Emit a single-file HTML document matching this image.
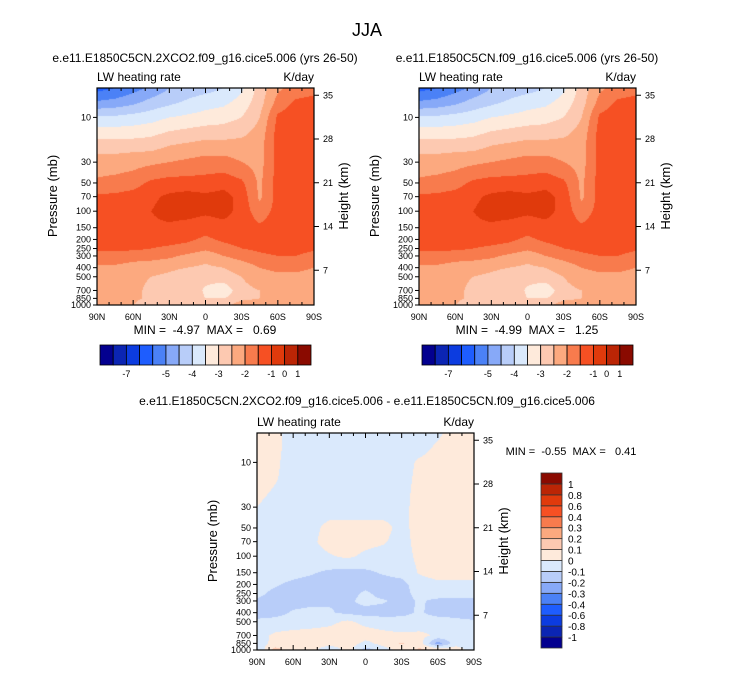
<!DOCTYPE html>
<html><head><meta charset="utf-8">
<style>
html,body{margin:0;padding:0;background:#fff;}
#wrap{position:relative;width:733px;height:673px;overflow:hidden;font-family:"Liberation Sans",sans-serif;}
canvas{position:absolute;}
svg{position:absolute;left:0;top:0;}
svg text{white-space:pre;}
</style></head><body>
<div id="wrap">
<canvas id="cL" width="217" height="217" style="left:97px;top:88px"></canvas>
<canvas id="cR" width="217" height="217" style="left:419px;top:88px"></canvas>
<canvas id="cB" width="217" height="217" style="left:257px;top:433px"></canvas>
<svg id="ov" width="733" height="673"></svg>
</div>
<script>
// ---------- data ----------
const lats = ["90N","75N","60N","45N","30N","15N","0","15S","30S","45S","60S","75S","90S"];
const latTicks = ["90N","60N","30N","0","30S","60S","90S"];
const pressures = [4.86,7,10,15,20,30,50,70,100,150,200,250,300,400,500,700,850,1000];
const pTickLabels = [10,30,50,70,100,150,200,250,300,400,500,700,850,1000];
const hTickLabels = [7,14,21,28,35];
const levelsAbs = [-7,-6,-5.5,-5,-4.5,-4,-3.5,-3,-2.5,-2,-1.5,-1,-0.5,0,1];
const levelsAbsLabels = ["","-7","","","-5","","-4","","-3","","-2","","-1","0","1"];
const levelsDiff = [-1,-0.8,-0.6,-0.4,-0.3,-0.2,-0.1,0,0.1,0.2,0.3,0.4,0.6,0.8,1];
const levelsDiffLabels = ["-1","-0.8","-0.6","-0.4","-0.3","-0.2","-0.1","0","0.1","0.2","0.3","0.4","0.6","0.8","1"];
const colors = ["#03008f","#0b25b3","#0c3ce0","#1e5dfe","#4b81f6","#87a9f8","#b8cdf9","#dae9fc","#feeadb","#fdc9b1","#fca97f","#f87b4d","#f65023","#e03a0c","#bb2505","#8a0a00"];

const gridLeft = [
[-5.2,-5.0,-4.7,-4.4,-4.0,-3.8,-3.7,-3.5,-3.1,-2.3,-1.6,-1.3,-1.2],
[-4.4,-4.3,-4.1,-3.8,-3.6,-3.4,-3.2,-3.1,-2.8,-2.2,-1.3,-0.9,-0.8],
[-3.4,-3.4,-3.3,-3.2,-3.0,-2.9,-2.8,-2.7,-2.5,-2.0,-0.9,-0.7,-0.7],
[-2.7,-2.7,-2.7,-2.6,-2.4,-2.3,-2.2,-2.2,-2.1,-1.8,-0.8,-0.7,-0.7],
[-2.2,-2.2,-2.2,-2.2,-2.0,-1.9,-1.8,-1.8,-1.8,-1.7,-0.8,-0.7,-0.7],
[-1.8,-1.8,-1.7,-1.6,-1.5,-1.4,-1.3,-1.3,-1.5,-1.7,-0.8,-0.7,-0.7],
[-1.4,-1.3,-1.2,-0.9,-0.8,-0.8,-0.8,-0.7,-0.9,-1.6,-0.8,-0.7,-0.7],
[-0.9,-0.9,-0.8,-0.6,-0.4,-0.3,-0.4,-0.3,-0.7,-1.6,-0.8,-0.7,-0.7],
[-0.7,-0.7,-0.6,-0.5,-0.3,-0.3,-0.4,-0.3,-0.7,-1.3,-0.8,-0.7,-0.7],
[-0.7,-0.7,-0.6,-0.6,-0.6,-0.7,-0.8,-0.7,-0.7,-0.9,-0.7,-0.7,-0.7],
[-0.7,-0.7,-0.8,-0.8,-0.8,-0.9,-1.1,-0.9,-0.8,-0.8,-0.7,-0.7,-0.7],
[-0.9,-0.9,-0.9,-1.0,-1.1,-1.2,-1.4,-1.2,-1.0,-0.9,-0.8,-0.8,-0.9],
[-1.2,-1.2,-1.3,-1.3,-1.4,-1.6,-1.8,-1.5,-1.3,-1.1,-1.0,-1.0,-1.2],
[-1.6,-1.6,-1.7,-1.8,-1.9,-2.0,-2.1,-2.0,-1.8,-1.5,-1.3,-1.3,-1.5],
[-1.8,-1.9,-1.9,-2.0,-2.1,-2.3,-2.3,-2.2,-2.0,-1.8,-1.7,-1.7,-1.8],
[-1.9,-1.9,-1.9,-2.1,-2.0,-2.0,-2.6,-2.9,-2.1,-2.0,-1.9,-1.9,-1.9],
[-1.8,-1.9,-1.9,-2.1,-2.2,-2.2,-2.5,-2.5,-2.2,-2.0,-1.9,-1.9,-1.9],
[-1.7,-1.9,-2.0,-2.3,-2.4,-2.3,-2.4,-2.3,-1.6,-1.6,-1.8,-1.9,-2.0]];

const gridRight = [
[-5.2,-5.0,-4.7,-4.4,-4.0,-3.8,-3.7,-3.5,-3.1,-2.3,-1.6,-1.3,-1.2],
[-4.4,-4.3,-4.1,-3.8,-3.6,-3.4,-3.2,-3.1,-2.8,-2.2,-1.3,-0.9,-0.8],
[-3.4,-3.4,-3.3,-3.2,-3.0,-2.9,-2.8,-2.7,-2.5,-2.0,-0.9,-0.7,-0.7],
[-2.7,-2.7,-2.7,-2.6,-2.4,-2.3,-2.2,-2.2,-2.1,-1.8,-0.8,-0.7,-0.7],
[-2.2,-2.2,-2.2,-2.2,-2.0,-1.9,-1.8,-1.8,-1.8,-1.7,-0.8,-0.7,-0.7],
[-1.8,-1.8,-1.7,-1.6,-1.5,-1.4,-1.3,-1.3,-1.5,-1.7,-0.8,-0.7,-0.7],
[-1.4,-1.3,-1.2,-0.9,-0.8,-0.8,-0.8,-0.7,-0.9,-1.6,-0.8,-0.7,-0.7],
[-0.9,-0.9,-0.8,-0.6,-0.4,-0.3,-0.4,-0.3,-0.7,-1.6,-0.8,-0.7,-0.7],
[-0.7,-0.7,-0.6,-0.5,-0.3,-0.3,-0.4,-0.3,-0.7,-1.3,-0.8,-0.7,-0.7],
[-0.7,-0.7,-0.6,-0.6,-0.6,-0.7,-0.8,-0.7,-0.7,-0.9,-0.7,-0.7,-0.7],
[-0.7,-0.7,-0.8,-0.8,-0.8,-0.9,-1.1,-0.9,-0.8,-0.8,-0.7,-0.7,-0.7],
[-0.9,-0.9,-0.9,-1.0,-1.1,-1.2,-1.4,-1.2,-1.0,-0.9,-0.8,-0.8,-0.9],
[-1.2,-1.2,-1.3,-1.3,-1.4,-1.6,-1.8,-1.5,-1.3,-1.1,-1.0,-1.0,-1.2],
[-1.6,-1.6,-1.7,-1.8,-1.9,-2.0,-2.1,-2.0,-1.8,-1.5,-1.3,-1.3,-1.5],
[-1.8,-1.9,-1.9,-2.0,-2.1,-2.3,-2.3,-2.2,-2.0,-1.8,-1.7,-1.7,-1.8],
[-1.9,-1.9,-1.9,-2.1,-2.0,-2.0,-2.6,-2.9,-2.1,-2.0,-1.9,-1.9,-1.9],
[-1.8,-1.9,-1.9,-2.1,-2.2,-2.2,-2.5,-2.5,-2.2,-2.0,-1.9,-1.9,-1.9],
[-1.7,-1.9,-2.0,-2.3,-2.4,-2.3,-2.4,-2.3,-1.6,-1.6,-1.8,-1.9,-2.0]];

const gridDiff = [
[0.05,0.03,-0.05,-0.05,-0.05,-0.05,-0.05,-0.05,-0.05,-0.05,-0.02,0.05,0.05],
[0.05,0.03,-0.05,-0.05,-0.05,-0.05,-0.05,-0.05,-0.05,-0.04,0.02,0.05,0.05],
[0.05,0.02,-0.05,-0.05,-0.05,-0.05,-0.05,-0.05,-0.05,0.02,0.05,0.05,0.05],
[0.04,0.01,-0.05,-0.05,-0.05,-0.05,-0.05,-0.05,-0.04,0.03,0.05,0.05,0.05],
[0.03,-0.01,-0.05,-0.05,-0.05,-0.05,-0.05,-0.05,-0.03,0.03,0.05,0.05,0.05],
[0.0,-0.04,-0.05,-0.05,-0.05,-0.05,-0.05,-0.05,-0.03,0.04,0.05,0.05,0.05],
[-0.03,-0.05,-0.05,-0.03,0.03,0.03,0.03,0.03,-0.03,0.04,0.05,0.05,0.05],
[-0.04,-0.05,-0.05,-0.02,0.04,0.04,0.03,0.01,-0.04,0.04,0.05,0.05,0.05],
[-0.05,-0.05,-0.05,-0.04,-0.01,0.02,-0.02,-0.04,-0.05,0.03,0.05,0.05,0.05],
[-0.06,-0.06,-0.07,-0.09,-0.12,-0.14,-0.12,-0.09,-0.07,0.01,0.05,0.05,0.05],
[-0.07,-0.09,-0.12,-0.14,-0.15,-0.15,-0.14,-0.14,-0.13,-0.05,-0.03,-0.03,-0.03],
[-0.08,-0.12,-0.14,-0.15,-0.14,-0.14,-0.08,-0.14,-0.13,-0.07,-0.06,-0.06,-0.06],
[-0.11,-0.14,-0.13,-0.12,-0.11,-0.12,-0.07,-0.09,-0.13,-0.09,-0.12,-0.12,-0.12],
[-0.14,-0.13,-0.09,-0.08,-0.09,-0.12,-0.14,-0.14,-0.12,-0.09,-0.13,-0.13,-0.14],
[-0.08,-0.07,-0.06,-0.05,-0.03,0.02,-0.03,-0.05,-0.07,-0.07,-0.06,-0.08,-0.09],
[-0.04,0.02,0.04,0.05,0.06,0.09,0.05,0.03,0.02,0.03,-0.02,-0.04,-0.05],
[-0.05,0.03,0.04,0.06,0.07,0.06,-0.03,0.04,0.11,0.05,-0.25,-0.04,-0.05],
[-0.1,0.15,0.04,0.06,-0.12,0.05,-0.15,-0.05,0.05,0.12,0.1,0.05,-0.05]];

// ---------- scales ----------
const PW = 217, PH = 217, PTOP = 4.86, PBOT = 1000;
const lnTop = Math.log(PTOP), lnBot = Math.log(PBOT);
function yOfP(p){ return (Math.log(p)-lnTop)/(lnBot-lnTop)*PH; }
function yOfH(z){ return PH + 9 - z*6.25; }
const lnP = pressures.map(p=>Math.log(p));
function hex2rgb(h){ return [parseInt(h.slice(1,3),16),parseInt(h.slice(3,5),16),parseInt(h.slice(5,7),16)]; }
const rgb = colors.map(hex2rgb);

function drawContour(id, grid, levels){
  const cv = document.getElementById(id), ctx = cv.getContext('2d');
  const img = ctx.createImageData(PW,PH);
  for(let py=0;py<PH;py++){
    const lp = lnTop + (py+0.5)/PH*(lnBot-lnTop);
    let r=0; while(r<lnP.length-2 && lnP[r+1]<lp) r++;
    let fy=(lp-lnP[r])/(lnP[r+1]-lnP[r]); fy=Math.max(0,Math.min(1,fy));
    for(let px=0;px<PW;px++){
      const gx=(px+0.5)/PW*(lats.length-1);
      let c=Math.min(lats.length-2,Math.floor(gx)); const fx=gx-c;
      const v=(grid[r][c]*(1-fx)+grid[r][c+1]*fx)*(1-fy)+(grid[r+1][c]*(1-fx)+grid[r+1][c+1]*fx)*fy;
      let k=0; while(k<levels.length && v>=levels[k]) k++;
      const col=rgb[k], o=(py*PW+px)*4;
      img.data[o]=col[0];img.data[o+1]=col[1];img.data[o+2]=col[2];img.data[o+3]=255;
    }
  }
  ctx.putImageData(img,0,0);
}
drawContour('cL',gridLeft,levelsAbs);
drawContour('cR',gridRight,levelsAbs);
drawContour('cB',gridDiff,levelsDiff);

// ---------- overlay ----------
const NS="http://www.w3.org/2000/svg", ov=document.getElementById('ov');
function mk(tag,attrs,parent){ const e=document.createElementNS(NS,tag); for(const k in attrs) e.setAttribute(k,attrs[k]); (parent||ov).appendChild(e); return e; }
function txt(s,x,y,size,anchor,name,parent){ const t=mk('text',{x:x,y:y,'font-size':size,'text-anchor':anchor||'middle','font-family':'Liberation Sans, sans-serif',fill:'#000'},parent); t.textContent=s;   return t; }

txt("JJA",367,36,18,'middle','figure-title');

function panel(x0,y0,title,prefix){
  const g=mk('g',{});
  
  
  if(title) txt(title,x0+108,y0-26,12,'middle',prefix+'-title',g);
  txt("LW heating rate",x0,y0-7,12,'start',prefix+'-variable-label',g);
  txt("K/day",x0+PW,y0-7,12,'end',prefix+'-units-label',g);
  const fr=mk('rect',{x:x0,y:y0,width:PW,height:PH,fill:'none',stroke:'#000','stroke-width':1.2},g);
  
  
  for(let d=0; d<=180; d+=10){
    const x=x0+d/180*PW, len=(d%30===0)?5:3;
    mk('line',{x1:x,y1:y0,x2:x,y2:y0+len,stroke:'#000','stroke-width':1},g);
    mk('line',{x1:x,y1:y0+PH,x2:x,y2:y0+PH-len,stroke:'#000','stroke-width':1},g);
  }
  latTicks.forEach((s,i)=>{
    const x=x0+i/(latTicks.length-1)*PW;
    txt(s,x,y0+PH+15,9,'middle',prefix+'-x-tick-label',g);
  });
  pTickLabels.forEach(p=>{
    const y=y0+yOfP(p);
    mk('line',{x1:x0,y1:y,x2:x0-4,y2:y,stroke:'#000','stroke-width':1},g);
    txt(String(p),x0-6,y+3,9,'end',prefix+'-y-tick-label',g);
  });
  hTickLabels.forEach(z=>{
    const y=y0+yOfH(z);
    mk('line',{x1:x0+PW,y1:y,x2:x0+PW+5,y2:y,stroke:'#000','stroke-width':1},g);
    txt(String(z),x0+PW+9,y+3,9,'start',prefix+'-height-tick-label',g);
  });
  const yl=txt("Pressure (mb)",0,0,13,'middle',prefix+'-y-axis-title',g);
  yl.setAttribute('transform','translate('+(x0-40)+','+(y0+108)+') rotate(-90)');
  const hl=txt("Height (km)",0,0,13,'middle',prefix+'-right-axis-title',g);
  hl.setAttribute('transform','translate('+(x0+PW+34)+','+(y0+108)+') rotate(-90)');
  return g;
}
panel(97,88,"e.e11.E1850C5CN.2XCO2.f09_g16.cice5.006 (yrs 26-50)","left");
panel(419,88,"e.e11.E1850C5CN.f09_g16.cice5.006 (yrs 26-50)","right");
panel(257,433,"","diff");
txt("MIN =  -4.97  MAX =   0.69",205,334,12,'middle','left-min-max');
txt("MIN =  -4.99  MAX =   1.25",527,334,12,'middle','right-min-max');
txt("e.e11.E1850C5CN.2XCO2.f09_g16.cice5.006 - e.e11.E1850C5CN.f09_g16.cice5.006",367,405,12,'middle','diff-title');
txt("MIN =  -0.55  MAX =   0.41",571,455,11,'middle','diff-min-max');

function hbar(x0,y0,w,h,name){
  const g=mk('g',{});
  
  
  const bw=w/colors.length;
  colors.forEach((c,i)=>{
    const r=mk('rect',{x:x0+i*bw,y:y0,width:bw,height:h,fill:c,stroke:'#000','stroke-width':0.8},g);
    
    
  });
  levelsAbsLabels.forEach((s,i)=>{ if(s) txt(s,x0+(i+1)*bw,y0+h+12,9,'middle','colorbar-label',g); });
}
hbar(100,345,211,20,'left-colorbar');
hbar(422,345,211,20,'right-colorbar');
(function(){
  const x0=541,y0=473,w=21,h=175,g=mk('g',{});
  
  
  const bh=h/colors.length;
  colors.forEach((c,i)=>{
    const r=mk('rect',{x:x0,y:y0+h-(i+1)*bh,width:w,height:bh,fill:c,stroke:'#333','stroke-width':0.8},g);
    
    
  });
  levelsDiffLabels.forEach((s,i)=>{ txt(s,x0+w+6,y0+h-(i+1)*bh+4,10,'start','labelbar-label',g); });
})();
</script>
</body></html>
